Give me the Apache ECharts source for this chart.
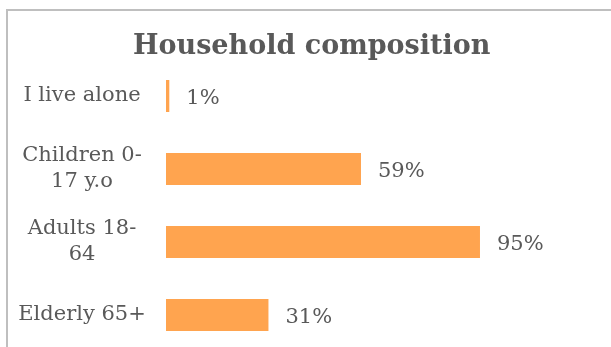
<!DOCTYPE html>
<html>
<head>
<meta charset="utf-8">
<script src="https://cdn.jsdelivr.net/npm/echarts@6/dist/echarts.min.js"></script>
<style>
  html, body { margin: 0; padding: 0; background: #fff; }
  #chart { width: 611px; height: 347px; }
</style>
</head>
<body>
<div id="chart"></div>
<script>
// Household members, share of respondents (%)
const categories = ['I live alone', 'Children 0-\n17 y.o', 'Adults 18-\n64', 'Elderly 65+'];
const shares = [1, 59, 95, 31];

const FONT = '"DejaVu Serif", Georgia, serif';
const TEXT = '#595959';

const chart = echarts.init(document.getElementById('chart'), null, { renderer: 'canvas' });

chart.setOption({
  backgroundColor: '#ffffff',
  animation: false,
  title: {
    text: 'Household composition',
    left: 133,
    top: 33,
    padding: 0,
    textStyle: { fontFamily: FONT, fontWeight: 'bold', fontSize: 27, color: TEXT }
  },
  grid: {
    left: 166, top: 59.5, width: 330.5, height: 292,
    containLabel: false, outerBoundsMode: 'none'
  },
  xAxis: {
    type: 'value',
    min: 0,
    max: 100,
    show: false,
    splitLine: { show: false }
  },
  yAxis: {
    type: 'category',
    inverse: true,
    data: categories,
    axisLine: { show: false },
    axisTick: { show: false },
    axisLabel: {
      align: 'center',
      margin: 84,
      fontFamily: FONT,
      fontSize: 21,
      lineHeight: 26,
      color: TEXT
    }
  },
  series: [{
    type: 'bar',
    data: shares,
    barWidth: 32,
    itemStyle: { color: '#FFA44F' },
    label: {
      show: true,
      position: 'right',
      distance: 17,
      offset: [0, 3],
      formatter: p => p.value + '%',
      fontFamily: FONT,
      fontSize: 21,
      color: TEXT
    }
  }],
  graphic: [{
    type: 'polyline',
    silent: true,
    shape: { points: [[7, 347], [7, 10], [611, 10]] },
    style: { stroke: '#BFBFBF', lineWidth: 2, fill: null }
  }]
});
</script>
</body>
</html>
